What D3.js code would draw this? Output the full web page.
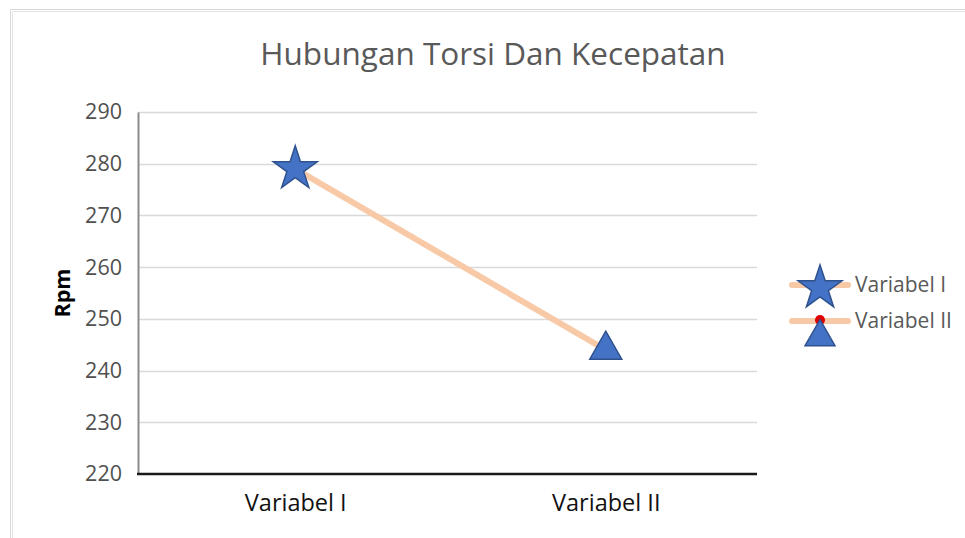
<!DOCTYPE html>
<html><head><meta charset="utf-8">
<script src="https://cdn.jsdelivr.net/npm/d3@7"></script>
<style>body{margin:0;background:#fff;}svg{display:block;font-family:"Open Sans","Noto Sans",sans-serif;}</style>
</head><body>
<svg id="c" width="965" height="538"></svg>
<script>
const categories = ["Variabel I", "Variabel II"];
const rpmValues = [279, 244];
const yTicks = [220, 230, 240, 250, 260, 270, 280, 290];
const seriesNames = ["Variabel I", "Variabel II"];
const titleText = "Hubungan Torsi Dan Kecepatan";
const yLabel = "Rpm";

const svg = d3.select("#c");
const W = 965, H = 538;
const m = {left: 138, right: 208, top: 112, bottom: 64};

// outer border (double thin gray)
svg.append("path").attr("d", `M10.5,${H} V9.5 H${W}`).attr("fill","none").attr("stroke","#d9d9d9").attr("stroke-width",1);
svg.append("path").attr("d", `M12.5,${H} V11.5 H${W}`).attr("fill","none").attr("stroke","#e6e6e6").attr("stroke-width",1);

const x = d3.scalePoint().domain(categories).range([m.left + 2, W - m.right + 4]).padding(0.5);
const y = d3.scaleLinear().domain([220, 290]).range([H - m.bottom, m.top]);

// gridlines
svg.append("g").selectAll("line").data(yTicks.slice(1)).join("line")
  .attr("x1", m.left).attr("x2", W - m.right)
  .attr("y1", d => Math.round(y(d)) + 0.5).attr("y2", d => Math.round(y(d)) + 0.5)
  .attr("stroke", "#d9d9d9").attr("stroke-width", 1.5);

// y axis
const yAxis = svg.append("g").attr("transform", `translate(${m.left},0)`)
  .call(d3.axisLeft(y).tickValues(yTicks).tickSize(0).tickPadding(16));
yAxis.select(".domain").attr("stroke", "#8c8c8c").attr("stroke-width", 2);
yAxis.selectAll("text").attr("fill", "#505050").style("font-size", "21.5px").style("font-family", '"Open Sans","Noto Sans",sans-serif');

// x axis
const xAxis = svg.append("g").attr("transform", `translate(0,${H - m.bottom})`)
  .call(d3.axisBottom(x).tickSize(0).tickPadding(20));
xAxis.select(".domain").attr("stroke", "#1a1a1a").attr("stroke-width", 2.5).attr("d", `M${m.left-1},0H${W - m.right}`);
xAxis.selectAll("text").attr("fill", "#111").style("font-size", "23.5px").style("font-family", '"Open Sans","Noto Sans",sans-serif');

// title
svg.append("text").attr("x", 493).attr("y", 65).attr("text-anchor", "middle")
  .attr("fill", "#595959").style("font-size", "31.5px").text(titleText);

// y label
svg.append("text").attr("transform", "translate(70,293) rotate(-90)").attr("text-anchor", "middle")
  .attr("fill", "#000").style("font-size", "21.5px").style("font-weight", "bold").text(yLabel);

// line
const pts = categories.map((c, i) => [x(c), y(rpmValues[i])]);
svg.append("path").attr("d", d3.line()(pts)).attr("fill", "none")
  .attr("stroke", "#f8c9a6").attr("stroke-width", 6).attr("stroke-linecap", "butt");

const starPath = d3.symbol(d3.symbolStar, 600)();
const triPath = (cx, cy, w, h) => `M${cx},${cy - h*2/3} L${cx + w/2},${cy + h/3} L${cx - w/2},${cy + h/3} Z`;

// markers
svg.append("circle").attr("cx", pts[1][0] - 2).attr("cy", pts[1][1] - 2).attr("r", 4).attr("fill", "#e00000");
svg.append("path").attr("d", starPath).attr("transform", `translate(${pts[0][0]},${pts[0][1]})`)
  .attr("fill", "#4472c4").attr("stroke", "#2f528f").attr("stroke-width", 1.5);
svg.append("path").attr("d", triPath(pts[1][0], pts[1][1], 32, 28))
  .attr("fill", "#4472c4").attr("stroke", "#2f528f").attr("stroke-width", 1.5);

// legend
const lg = svg.append("g");
const ly = [285, 321];
seriesNames.forEach((s, i) => {
  lg.append("line").attr("x1", 792).attr("x2", 848).attr("y1", ly[i]).attr("y2", ly[i])
    .attr("stroke", "#f8c9a6").attr("stroke-width", 6).attr("stroke-linecap", "round");
  lg.append("text").attr("x", 855).attr("y", ly[i] + 7).attr("fill", "#595959")
    .style("font-size", "21px").text(s);
});
lg.append("path").attr("d", starPath).attr("transform", `translate(820,288)`)
  .attr("fill", "#4472c4").attr("stroke", "#2f528f").attr("stroke-width", 1.5);
lg.append("circle").attr("cx", 820).attr("cy", 320).attr("r", 5).attr("fill", "#e00000");
lg.append("path").attr("d", triPath(820, 337, 30, 26))
  .attr("fill", "#4472c4").attr("stroke", "#2f528f").attr("stroke-width", 1.5);
</script>
</body></html>
